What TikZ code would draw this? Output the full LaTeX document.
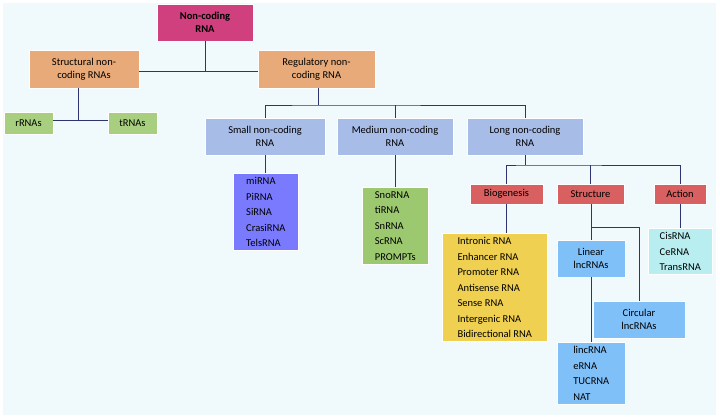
\documentclass[tikz,border=0pt]{standalone}
\usepackage{fontspec}
\setmainfont{Carlito}
\usetikzlibrary{positioning}
\definecolor{bgpale}{HTML}{F0F9FC}
\definecolor{rootpink}{HTML}{D0407F}
\definecolor{tanbox}{HTML}{E8AA78}
\definecolor{greenbox}{HTML}{A8CF80}
\definecolor{lilacbox}{HTML}{A8BCE8}
\definecolor{bluelist}{HTML}{7A7AFF}
\definecolor{greenlist}{HTML}{9CC870}
\definecolor{redbox}{HTML}{D96060}
\definecolor{goldlist}{HTML}{F0D050}
\definecolor{skybox}{HTML}{80C0F8}
\definecolor{cyanlist}{HTML}{B8EEF0}
\definecolor{linkcol}{HTML}{2E3470}
\begin{document}
\begin{tikzpicture}[x=1pt, y=-1pt,
    box/.style={inner sep=2pt, align=center, font=\fontsize{10.5}{13}\selectfont, draw=white, line width=0.6pt},
    listbox/.style={box, align=left, anchor=north west, inner xsep=5pt, inner ysep=4pt, font=\fontsize{10.5}{15.5}\selectfont},
    link/.style={draw=linkcol, line width=0.9pt}
]
\fill[bgpale] (3,3) rectangle (716,415);
\useasboundingbox (0,0) rectangle (720,417);
% Top level
\node[box, fill=rootpink, minimum width=96pt, minimum height=37pt, font=\fontsize{10.5}{13}\selectfont\bfseries] (root) at (205,22.5) {Non-coding\\RNA};
\node[box, fill=tanbox, minimum width=110pt, minimum height=38pt] (struct) at (84,69) {Structural non-\\coding RNAs};
\node[box, fill=tanbox, minimum width=117pt, minimum height=38pt] (regul) at (316.5,69) {Regulatory non-\\coding RNA};
\node[box, fill=greenbox, minimum width=49pt, minimum height=22pt] (rrna) at (28.5,123) {rRNAs};
\node[box, fill=greenbox, minimum width=49pt, minimum height=22pt] (trna) at (132.5,123) {tRNAs};
% Second level
\node[box, fill=lilacbox, minimum width=120pt, minimum height=37pt] (small) at (265,136.5) {Small non-coding\\RNA};
\node[box, fill=lilacbox, minimum width=116pt, minimum height=37pt] (medium) at (395,136.5) {Medium non-coding\\RNA};
\node[box, fill=lilacbox, minimum width=116pt, minimum height=37pt] (long) at (525,136.5) {Long non-coding\\RNA};
\node[listbox, fill=bluelist, minimum width=65pt] (smalllist) at (233,173) {miRNA\\PiRNA\\SiRNA\\CrasiRNA\\TelsRNA};
\node[listbox, fill=greenlist, minimum width=66pt] (medlist) at (362,187) {SnoRNA\\tiRNA\\SnRNA\\ScRNA\\PROMPTs};
% Long branches
\node[box, fill=redbox, minimum width=73pt, minimum height=20pt] (biogen) at (506.5,194) {Biogenesis};
\node[box, fill=redbox, minimum width=67pt, minimum height=20pt] (structure) at (590.5,194) {Structure};
\node[box, fill=redbox, minimum width=52pt, minimum height=20pt] (action) at (680,194) {Action};
\node[listbox, fill=goldlist, minimum width=105pt] (biolist) at (442,233) {Intronic RNA\\Enhancer RNA\\Promoter RNA\\Antisense RNA\\Sense RNA\\Intergenic RNA\\Bidirectional RNA};
\node[box, fill=skybox, minimum width=68pt, minimum height=37pt] (linear) at (591,258.5) {Linear\\lncRNAs};
\node[box, fill=skybox, minimum width=92pt, minimum height=37pt] (circular) at (639,319.5) {Circular\\lncRNAs};
\node[listbox, fill=skybox, minimum width=68pt] (linclist) at (557,342) {lincRNA\\eRNA\\TUCRNA\\NAT};
\node[listbox, fill=cyanlist, minimum width=64pt] (actlist) at (648,228) {CisRNA\\CeRNA\\TransRNA};
% Connectors
\coordinate (j1) at (205,71);
\draw[link] (root.south) -- (j1);
\draw[link] (struct.east |- j1) -- (regul.west |- j1);
\coordinate (j2) at (78,120);
\draw[link] (struct.south -| j2) -- (j2);
\draw[link] (rrna.east |- j2) -- (trna.west |- j2);
\coordinate (j3) at (318,105);
\draw[link] (regul.south -| j3) -- (j3);
\draw[link] (small.north) |- (j3) -| (long.north);
\draw[link] (medium.north) -- (medium.north |- j3);
\draw[link] (small.south) -- (smalllist.north -| small.south);
\draw[link] (medium.south) -- (medlist.north -| medium.south);
\coordinate (j4) at (525,165);
\draw[link] (long.south) -- (j4);
\draw[link] (biogen.north) |- (j4) -| (action.north);
\draw[link] (structure.north) -- (structure.north |- j4);
\draw[link] (biogen.south) -- (biolist.north -| biogen.south);
\draw[link] (action.south) -- (actlist.north -| action.south);
\coordinate (j5) at (591,227);
\draw[link] (structure.south -| j5) -- (linear.north -| j5);
\draw[link] (linear.south -| j5) -- (linclist.north -| j5);
\draw[link] (j5) -| (circular.north);
\end{tikzpicture}
\end{document}
